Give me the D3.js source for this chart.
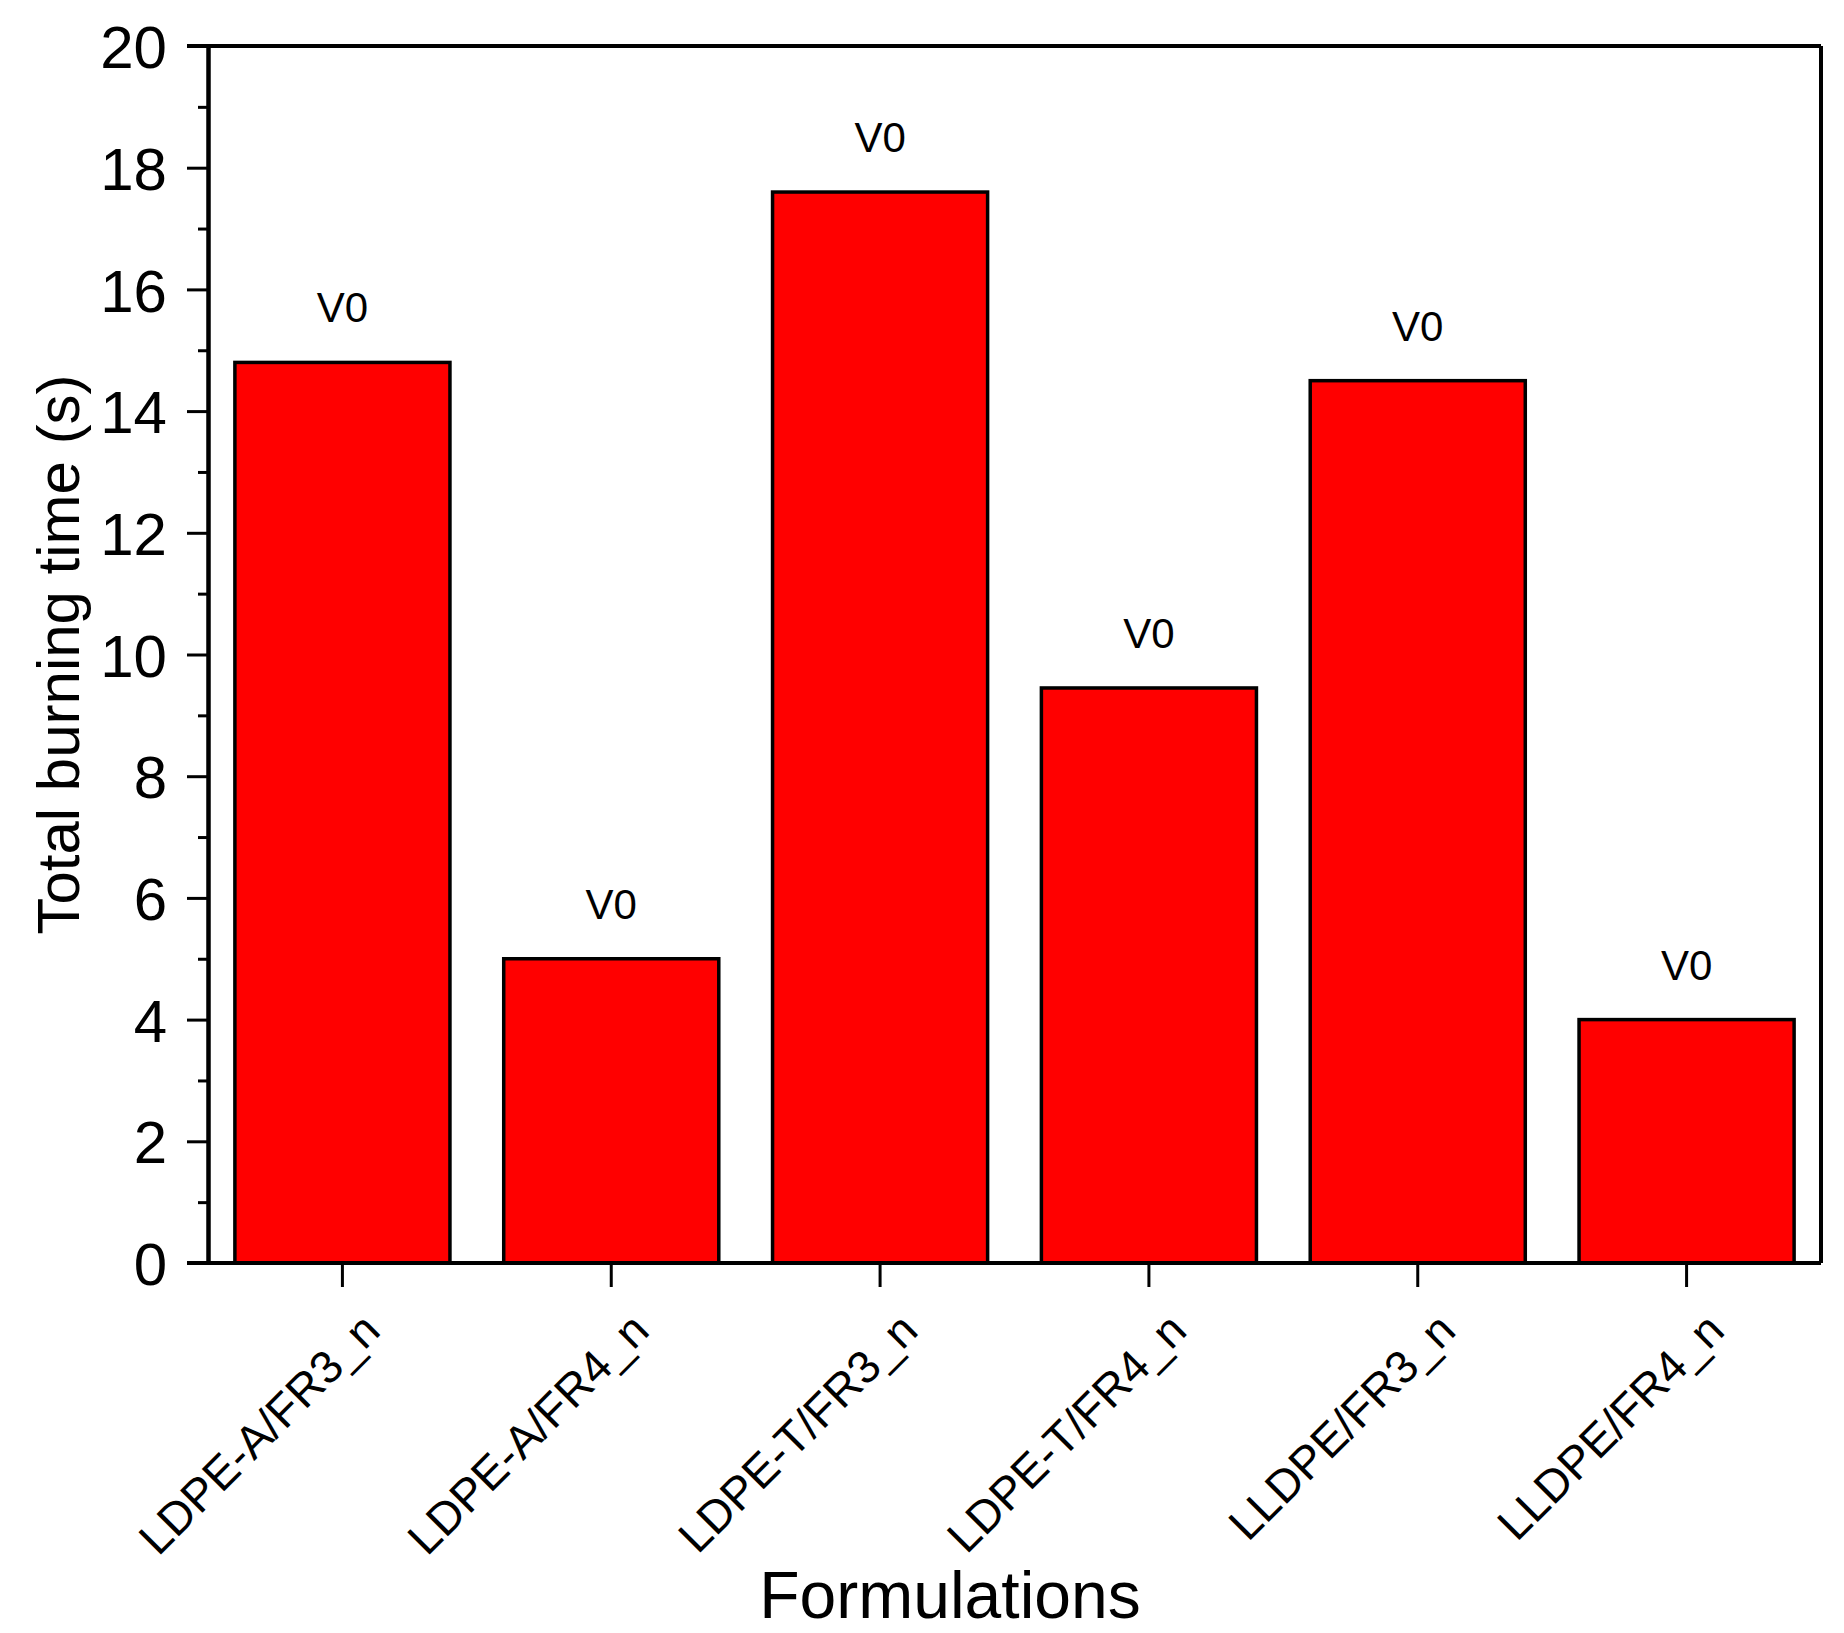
<!DOCTYPE html>
<html>
<head>
<meta charset="utf-8">
<script src="https://cdn.jsdelivr.net/npm/d3@7"></script>
<style>
	body { margin: 0; background: #ffffff; }
	svg text { font-family: "Liberation Sans", Arial, sans-serif; fill: #000; }
</style>
</head>
<body>
<svg id="chart" width="1844" height="1633"></svg>
<script>
// data
var formulations = ["LDPE-A/FR3_n", "LDPE-A/FR4_n", "LDPE-T/FR3_n", "LDPE-T/FR4_n", "LLDPE/FR3_n", "LLDPE/FR4_n"];
var burningTime = [14.8, 5.0, 17.6, 9.45, 14.5, 4.0];
var ratings = ["V0", "V0", "V0", "V0", "V0", "V0"];
var yTicks = [0, 2, 4, 6, 8, 10, 12, 14, 16, 18, 20];
var yMinorTicks = [1, 3, 5, 7, 9, 11, 13, 15, 17, 19];

var svg = d3.select("#chart"),
	width = +svg.attr("width"),
	height = +svg.attr("height"),
	margin = { top: 46, right: 23, bottom: 370, left: 208 },
	w = width - margin.left - margin.right,
	h = height - margin.top - margin.bottom;

svg.append("rect").attr("width", width).attr("height", height).attr("fill", "#fff");

var g = svg.append("g").attr("transform", "translate(" + margin.left + "," + margin.top + ")");

var x = d3.scaleBand()
	.domain(formulations)
	.range([0, w])
	.paddingInner(0.2)
	.paddingOuter(0.1);

var y = d3.scaleLinear().domain([0, 20]).range([h, 0]);

// bars
g.selectAll(".bar")
	.data(formulations)
	.enter().append("rect")
	.attr("class", "bar")
	.attr("x", function(d) { return x(d); })
	.attr("y", function(d, i) { return y(burningTime[i]); })
	.attr("width", x.bandwidth())
	.attr("height", function(d, i) { return h - y(burningTime[i]); })
	.style("fill", "#ff0000")
	.style("stroke", "#000")
	.style("stroke-width", 3.5);

// rating labels above the bars
g.selectAll(".rating")
	.data(formulations)
	.enter().append("text")
	.attr("class", "rating")
	.attr("x", function(d) { return x(d) + x.bandwidth() / 2; })
	.attr("y", function(d, i) { return y(burningTime[i]) - 40; })
	.attr("text-anchor", "middle")
	.style("font-size", "42px")
	.text(function(d, i) { return ratings[i]; });

// frame (top and right)
g.append("line").attr("x1", 0).attr("x2", w).attr("y1", 0).attr("y2", 0)
	.style("stroke", "#000").style("stroke-width", 4);
g.append("line").attr("x1", w).attr("x2", w).attr("y1", 0).attr("y2", h)
	.style("stroke", "#000").style("stroke-width", 4);

// y axis: major + minor ticks
var yAxis = g.append("g")
	.call(d3.axisLeft(y).tickValues(yTicks).tickSize(21).tickPadding(20).tickSizeOuter(0));
var yMinor = g.append("g")
	.call(d3.axisLeft(y).tickValues(yMinorTicks).tickSize(10).tickFormat("").tickSizeOuter(0));

yAxis.selectAll("text").style("font-size", "60px").attr("dy", "0.36em");
[yAxis, yMinor].forEach(function(a) {
	a.select(".domain").style("stroke", "#000").style("stroke-width", 4);
	a.selectAll(".tick line").style("stroke", "#000").style("stroke-width", 3);
});

// x axis
var xAxis = g.append("g")
	.attr("transform", "translate(0," + h + ")")
	.call(d3.axisBottom(x).tickSize(24).tickSizeOuter(0));
xAxis.select(".domain").style("stroke", "#000").style("stroke-width", 4)
	.attr("d", "M-21,0H" + w);
xAxis.selectAll(".tick line").style("stroke", "#000").style("stroke-width", 3);
xAxis.selectAll(".tick text")
	.style("font-size", "46px")
	.attr("text-anchor", "end")
	.attr("y", 0).attr("dy", 0)
	.attr("transform", "translate(40,70) rotate(-45)");

// top axis line extends to the 20 tick too
g.append("line").attr("x1", -21).attr("x2", 0).attr("y1", 0).attr("y2", 0)
	.style("stroke", "#000").style("stroke-width", 4);

// axis titles
svg.append("text")
	.attr("transform", "translate(79," + (margin.top + h / 2) + ") rotate(-90)")
	.attr("text-anchor", "middle")
	.style("font-size", "60px")
	.text("Total burning time (s)");

svg.append("text")
	.attr("x", 950)
	.attr("y", 1618)
	.attr("text-anchor", "middle")
	.style("font-size", "66px")
	.text("Formulations");
</script>
</body>
</html>
